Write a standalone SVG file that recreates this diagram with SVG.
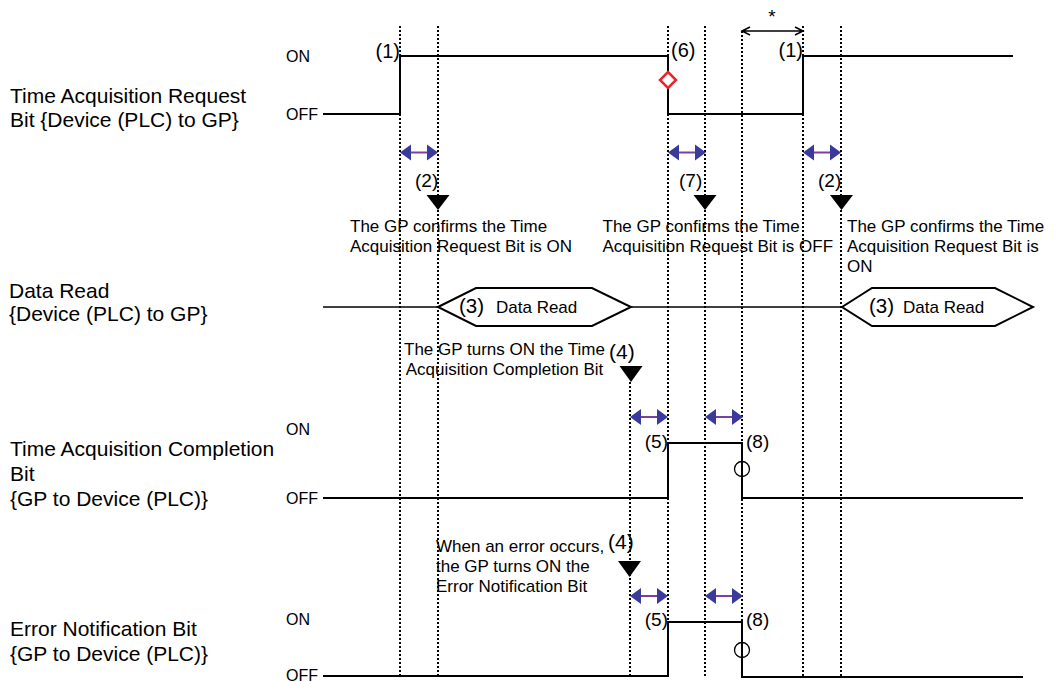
<svg xmlns="http://www.w3.org/2000/svg" width="1056" height="682" viewBox="0 0 1056 682">
<defs>
<style>
text{font-family:"Liberation Sans",Arial,sans-serif;fill:#000}
.lbl{font-size:21px}
.st{font-size:16px}
.note{font-size:17px}
.num{font-size:20px}
.sig{fill:none;stroke:#000;stroke-width:2}
.dot{fill:none;stroke:#000;stroke-width:1.5;stroke-dasharray:2 2;shape-rendering:crispEdges}
.dl{stroke:#7a3fa0;stroke-width:2}
.dh{fill:#3a3a9c}
.tri{fill:#000}
</style>
<g id="darr">
<line class="dl" x1="8" y1="0" x2="30" y2="0"/>
<polygon class="dh" points="0,0 11,-8 11,8"/>
<polygon class="dh" points="38,0 27,-8 27,8"/>
</g>
</defs>
<rect width="1056" height="682" fill="#fff"/>

<g id="connectors">
<line class="dot" x1="400" y1="26" x2="400" y2="678"/>
<line class="dot" x1="438" y1="26" x2="438" y2="678"/>
<line class="dot" x1="630" y1="382" x2="630" y2="678"/>
<line class="dot" x1="668" y1="26" x2="668" y2="678"/>
<line class="dot" x1="705" y1="26" x2="705" y2="678"/>
<line class="dot" x1="742" y1="31" x2="742" y2="678"/>
<line class="dot" x1="803" y1="26" x2="803" y2="678"/>
<line class="dot" x1="841" y1="26" x2="841" y2="678"/>
<use href="#darr" x="400" y="152.5"/>
<use href="#darr" x="668" y="152.5"/>
<use href="#darr" x="803" y="152.5"/>
<use href="#darr" x="630" y="417"/>
<use href="#darr" x="705" y="417"/>
<use href="#darr" x="630" y="596"/>
<use href="#darr" x="705" y="596"/>
<path d="M742,31 H803 M750,27 L742,31 L750,35 M795,27 L803,31 L795,35" fill="none" stroke="#000" stroke-width="1.5"/>
</g>

<g id="labels">
<text class="lbl" x="10" y="102.5">Time Acquisition Request</text>
<text class="lbl" x="10" y="126.5">Bit {Device (PLC) to GP}</text>
<text class="lbl" x="9" y="298">Data Read</text>
<text class="lbl" x="9" y="321">{Device (PLC) to GP}</text>
<text class="lbl" x="10" y="456">Time Acquisition Completion</text>
<text class="lbl" x="10" y="481">Bit</text>
<text class="lbl" x="10" y="506">{GP to Device (PLC)}</text>
<text class="lbl" x="10" y="636">Error Notification Bit</text>
<text class="lbl" x="10" y="661">{GP to Device (PLC)}</text>
<text class="st" x="286" y="62">ON</text>
<text class="st" x="286" y="120">OFF</text>
<text class="st" x="286" y="434.5">ON</text>
<text class="st" x="286" y="504">OFF</text>
<text class="st" x="286" y="625">ON</text>
<text class="st" x="286" y="681">OFF</text>
<text x="772" y="23" text-anchor="middle" style="font-size:19px">*</text>
</g>

<g id="request-signal">
<polyline class="sig" points="323,114 400,114 400,56 668,56 668,114 803,114 803,56 1013,56"/>
<polygon points="668,72 676,80 668,88 660,80" fill="#fff" stroke="#e8252b" stroke-width="2.5"/>
<text class="num" x="400" y="57.5" text-anchor="end">(1)</text>
<text class="num" x="671" y="56.5">(6)</text>
<text class="num" x="803" y="57" text-anchor="end">(1)</text>
</g>

<g id="confirm-on-1">
<text class="num" x="415" y="187" style="font-size:19px">(2)</text>
<polygon class="tri" points="426.5,195 449.5,195 438,210"/>
<text class="note" x="350" y="232">The GP confirms the Time</text>
<text class="note" x="350" y="252">Acquisition Request Bit is ON</text>
</g>

<g id="confirm-off">
<text class="num" x="679" y="187" style="font-size:19px">(7)</text>
<polygon class="tri" points="693.5,195 716.5,195 705,210"/>
<text class="note" x="602.5" y="232">The GP confirms the Time</text>
<text class="note" x="602.5" y="252">Acquisition Request Bit is OFF</text>
</g>

<g id="confirm-on-2">
<text class="num" x="818" y="187" style="font-size:19px">(2)</text>
<polygon class="tri" points="830,195 853,195 841.5,210"/>
<text class="note" x="847" y="232">The GP confirms the Time</text>
<text class="note" x="847" y="252">Acquisition Request Bit is</text>
<text class="note" x="847" y="272">ON</text>
</g>

<g id="data-read">
<polyline points="323,307 438,307" fill="none" stroke="#000" stroke-width="1.5"/>
<polyline points="631,307 842,307" fill="none" stroke="#000" stroke-width="1.5"/>
<polygon points="438,307 476,288 592,288 631,307 592,326 476,326" fill="#fff" stroke="#000" stroke-width="2"/>
<polygon points="842,307 872,288 995,288 1033,307 995,326 872,326" fill="#fff" stroke="#000" stroke-width="2"/>
<text class="num" x="459" y="313" style="font-size:20.5px">(3)</text>
<text class="note" x="496" y="313">Data Read</text>
<text class="num" x="869" y="313" style="font-size:20.5px">(3)</text>
<text class="note" x="903" y="313">Data Read</text>
</g>

<g id="completion-on">
<text class="note" x="504.5" y="355" text-anchor="middle">The GP turns ON the Time</text>
<text class="note" x="504.5" y="375" text-anchor="middle">Acquisition Completion Bit</text>
<text class="num" x="609" y="359" style="font-size:21px">(4)</text>
<polygon class="tri" points="619.5,366 642.5,366 631,382"/>
</g>

<g id="completion-signal">
<polyline class="sig" points="323,498 668,498 668,443 742,443 742,498 1023,498"/>
<circle cx="742" cy="469" r="7.5" fill="none" stroke="#000" stroke-width="1.3"/>
<text class="num" x="668" y="448" text-anchor="end" style="font-size:19px">(5)</text>
<text class="num" x="746" y="448" style="font-size:19px">(8)</text>
</g>

<g id="error-on">
<text class="note" x="436" y="552">When an error occurs,</text>
<text class="note" x="436" y="572">the GP turns ON the</text>
<text class="note" x="436" y="592">Error Notification Bit</text>
<text class="num" x="608" y="549" style="font-size:21px">(4)</text>
<polygon class="tri" points="618,561 641,561 629.5,577"/>
</g>

<g id="error-signal">
<polyline class="sig" points="323,676 668,676 668,622 742,622 742,677 1023,677"/>
<circle cx="742" cy="650" r="7.5" fill="none" stroke="#000" stroke-width="1.3"/>
<text class="num" x="668" y="626" text-anchor="end" style="font-size:19px">(5)</text>
<text class="num" x="746" y="626" style="font-size:19px">(8)</text>
</g>
</svg>
